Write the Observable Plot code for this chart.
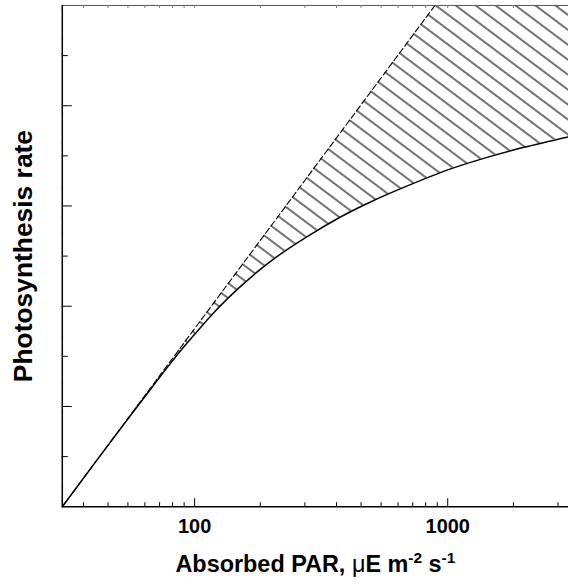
<!DOCTYPE html>
<html><head><meta charset="utf-8">
<script src="https://cdn.jsdelivr.net/npm/d3@7"></script>
<script src="https://cdn.jsdelivr.net/npm/@observablehq/plot@0.6"></script>
<style>
html,body{margin:0;padding:0;background:#fff;overflow:hidden;}
</style></head><body><div id="chart"></div>
<script>
// Absorbed PAR (x) and photosynthesis rate (solid curve)
const parX = [30, 40, 50, 60, 70, 80, 90, 100, 120, 150, 200, 250, 300, 400, 500, 700, 1000, 1500, 2000, 3000];
const rateSolid = [0, 0.85, 1.50, 2.03, 2.47, 2.85, 3.17, 3.44, 3.89, 4.37, 4.90, 5.24, 5.49, 5.85, 6.09, 6.41, 6.72, 7.00, 7.17, 7.38];
// Dashed (light-limited, linear) line
const dashedX = [30, 890];
const dashedY = [0, 10];
// Axis ticks
const xMinorTicks = [36.4, 45.5, 54.5, 63.6, 72.7, 81.8, 90.9, 181.8, 272.7, 363.6, 454.5, 545.5, 636.4, 727.3, 818.2, 909.1, 1818, 2727];
const xMajorTicks = [100, 1000];
const xTickLabels = ["100", "1000"];
const yMinorTicks = [1, 3, 5, 7, 9];
const yMajorTicks = [2, 4, 6, 8];
const xDomain = [30, 3000];
const yDomain = [0, 10];
const yLabel = "Photosynthesis rate";
const xLabel = "Absorbed PAR, μE m-2 s-1";

const solid = parX.map((x, i) => ({x, y: rateSolid[i]}));
const dashed = dashedX.map((x, i) => ({x, y: dashedY[i]}));
const yTop = yDomain[1], yBot = yDomain[0], xLeft = xDomain[0];

const FONT = "'Liberation Sans', Arial, Helvetica, sans-serif";

const svg = Plot.plot({
  width: 570, height: 584,
  marginLeft: 62, marginRight: 0, marginTop: 5, marginBottom: 76,
  x: {type: "log", domain: xDomain, axis: null},
  y: {domain: yDomain, axis: null},
  style: {fontFamily: FONT, background: "white", overflow: "visible"},
  marks: [
    // hatched region between solid curve and top, then masked left of dashed line
    Plot.areaY(solid, {x: "x", y1: "y", y2: yTop, curve: "monotone-x", fill: "url(#hatch)"}),
    Plot.areaY(dashed, {x: "x", y1: "y", y2: yTop, fill: "white"}),
    Plot.line(solid, {x: "x", y: "y", curve: "monotone-x", stroke: "black", strokeWidth: 1.5}),
    Plot.line(dashed, {x: "x", y: "y", stroke: "black", strokeWidth: 1.1, strokeDasharray: "6,3"}),
    // frame
    Plot.ruleY([yTop], {stroke: "#555", strokeWidth: 1}),
    Plot.ruleX([xLeft], {stroke: "black", strokeWidth: 1.5}),
    Plot.ruleY([yBot], {stroke: "black", strokeWidth: 1.5}),
    // bottom ticks (inward)
    Plot.ruleX(xMinorTicks, {x: d => d, y1: yBot, y2: yBot, insetTop: -4, stroke: "black", strokeWidth: 1}),
    Plot.ruleX(xMajorTicks, {x: d => d, y1: yBot, y2: yBot, insetTop: -8, stroke: "black", strokeWidth: 1}),
    // top ticks (inward)
    Plot.ruleX(xMinorTicks.concat(xMajorTicks), {x: d => d, y1: yTop, y2: yTop, insetBottom: -3, stroke: "#777", strokeWidth: 1}),
    // left ticks (inward)
    Plot.ruleY(yMinorTicks, {y: d => d, x1: xLeft, x2: xLeft, insetRight: -6, stroke: "black", strokeWidth: 1}),
    Plot.ruleY(yMajorTicks, {y: d => d, x1: xLeft, x2: xLeft, insetRight: -10, stroke: "black", strokeWidth: 1}),
    // tick labels
    Plot.text(xMajorTicks, {x: d => d, y: yBot, dy: 20, text: (d, i) => xTickLabels[i], fontSize: 20, fontWeight: "bold", fill: "black"}),
    // axis titles
    Plot.text([xLabel], {frameAnchor: "bottom", dy: 66, text: d => d, fontSize: 23.5, fontWeight: "bold", fill: "black"}),
    Plot.text([yLabel], {frameAnchor: "left", textAnchor: "middle", dx: -39, dy: 0, rotate: -90, text: d => d, fontSize: 26.5, fontWeight: "bold", fill: "black"})
  ]
});

// hatch pattern
const defs = d3.select(svg).insert("defs", ":first-child");
const pat = defs.append("pattern")
  .attr("id", "hatch")
  .attr("patternUnits", "userSpaceOnUse")
  .attr("width", 10).attr("height", 12)
  .attr("patternTransform", "rotate(36.87)");
pat.append("line").attr("x1", -1).attr("x2", 11).attr("y1", 6).attr("y2", 6)
  .attr("stroke", "black").attr("stroke-width", 1.1);

// superscripts in x label
d3.select(svg).selectAll("text").filter(function() { return this.textContent === xLabel; })
  .each(function() {
    const t = d3.select(this);
    t.text(null);
    t.append("tspan").text("Absorbed PAR, ");
    t.append("tspan").attr("font-weight", "normal").text("μ");
    t.append("tspan").text("E m");
    t.append("tspan").attr("font-size", 15.5).attr("dy", -9.5).text("-2");
    t.append("tspan").attr("dy", 9.5).text(" s");
    t.append("tspan").attr("font-size", 15.5).attr("dy", -9.5).text("-1");
  });

document.getElementById("chart").appendChild(svg);
</script></body></html>
